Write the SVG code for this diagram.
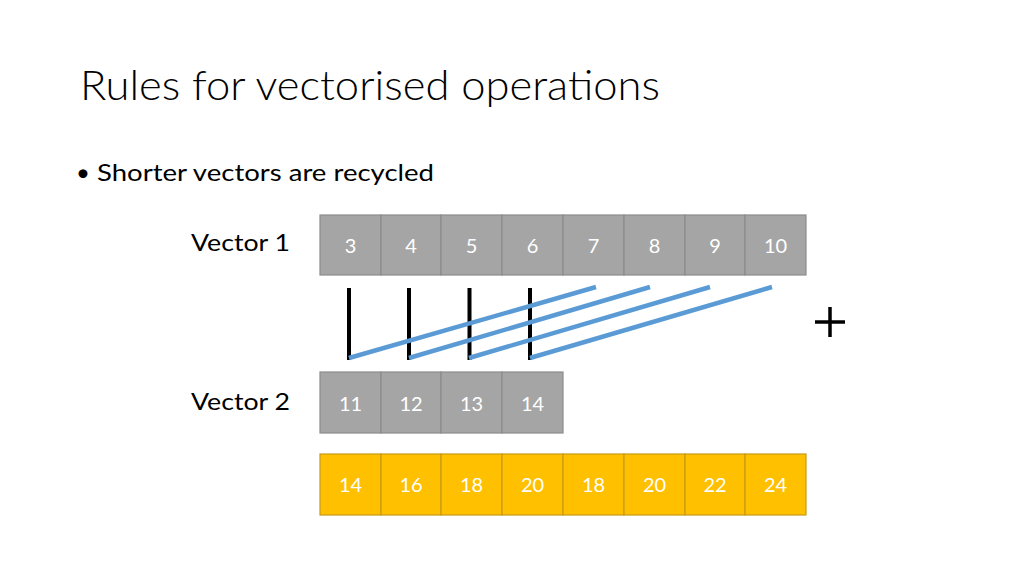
<svg xmlns="http://www.w3.org/2000/svg" width="1024" height="576" viewBox="0 0 1024 576">
<style>
.t{font-family:Lato,"Liberation Sans",sans-serif;fill:#000}
.c{fill:#a5a5a5;stroke:#8c8c8c;stroke-width:1.2}
.y{fill:#ffc000;stroke:#c99a14;stroke-width:1.2}
.n{font-family:Lato,"Liberation Sans",sans-serif;font-size:20px;fill:#fff;text-anchor:middle}
.k{stroke:#000;stroke-width:4}
.b{stroke:#5b9bd5;stroke-width:4.5;stroke-linecap:butt}
</style>
<rect width="1024" height="576" fill="#fff"/>
<text class="t" x="80" y="100" font-size="42" font-weight="300" textLength="580" lengthAdjust="spacingAndGlyphs">Rules for vectorised operations</text>
<text class="t" x="76" y="181" font-size="24">•</text>
<text class="t" x="97" y="181" font-size="24" textLength="337" lengthAdjust="spacingAndGlyphs">Shorter vectors are recycled</text>
<text class="t" x="191" y="251" font-size="24" textLength="99" lengthAdjust="spacingAndGlyphs">Vector 1</text>
<text class="t" x="191" y="410" font-size="24" textLength="99" lengthAdjust="spacingAndGlyphs">Vector 2</text>
<g id="v1">
<rect class="c" x="320" y="215" width="61" height="60"/><text class="n" x="350.5" y="253">3</text>
<rect class="c" x="381" y="215" width="60" height="60"/><text class="n" x="411" y="253">4</text>
<rect class="c" x="441" y="215" width="61" height="60"/><text class="n" x="471.5" y="253">5</text>
<rect class="c" x="502" y="215" width="61" height="60"/><text class="n" x="532.5" y="253">6</text>
<rect class="c" x="563" y="215" width="61" height="60"/><text class="n" x="593.5" y="253">7</text>
<rect class="c" x="624" y="215" width="61" height="60"/><text class="n" x="654.5" y="253">8</text>
<rect class="c" x="685" y="215" width="60" height="60"/><text class="n" x="715" y="253">9</text>
<rect class="c" x="745" y="215" width="61" height="60"/><text class="n" x="775.5" y="253">10</text>
</g>
<g id="v2">
<rect class="c" x="320" y="372" width="61" height="61"/><text class="n" x="350.5" y="411">11</text>
<rect class="c" x="381" y="372" width="60" height="61"/><text class="n" x="411" y="411">12</text>
<rect class="c" x="441" y="372" width="61" height="61"/><text class="n" x="471.5" y="411">13</text>
<rect class="c" x="502" y="372" width="61" height="61"/><text class="n" x="532.5" y="411">14</text>
</g>
<g id="result">
<rect class="y" x="320" y="454" width="61" height="61"/><text class="n" x="350.5" y="492">14</text>
<rect class="y" x="381" y="454" width="60" height="61"/><text class="n" x="411" y="492">16</text>
<rect class="y" x="441" y="454" width="61" height="61"/><text class="n" x="471.5" y="492">18</text>
<rect class="y" x="502" y="454" width="61" height="61"/><text class="n" x="532.5" y="492">20</text>
<rect class="y" x="563" y="454" width="61" height="61"/><text class="n" x="593.5" y="492">18</text>
<rect class="y" x="624" y="454" width="61" height="61"/><text class="n" x="654.5" y="492">20</text>
<rect class="y" x="685" y="454" width="60" height="61"/><text class="n" x="715" y="492">22</text>
<rect class="y" x="745" y="454" width="61" height="61"/><text class="n" x="775.5" y="492">24</text>
</g>
<g id="connectors">
<line class="k" x1="349" y1="288" x2="349" y2="360"/>
<line class="k" x1="409" y1="288" x2="409" y2="360"/>
<line class="k" x1="469.5" y1="288" x2="469.5" y2="360"/>
<line class="k" x1="530" y1="288" x2="530" y2="360"/>
<line class="b" x1="349" y1="358" x2="596" y2="287"/>
<line class="b" x1="409" y1="358" x2="650" y2="287"/>
<line class="b" x1="469" y1="358" x2="710" y2="287"/>
<line class="b" x1="530" y1="358" x2="772" y2="287"/>
</g>
<g id="plus">
<line x1="815" y1="322" x2="845" y2="322" stroke="#000" stroke-width="3.5"/>
<line x1="830" y1="307" x2="830" y2="337" stroke="#000" stroke-width="3.5"/>
</g>
</svg>
